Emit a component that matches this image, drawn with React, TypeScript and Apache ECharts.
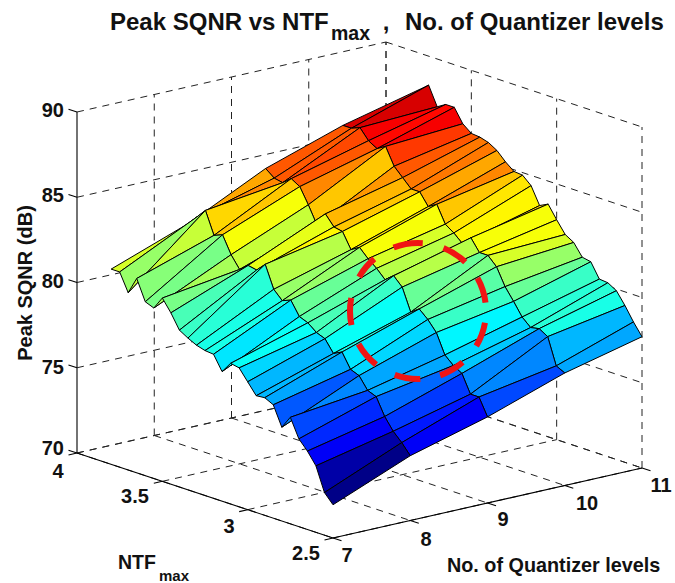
import React, { useEffect, useRef } from "react";
import * as echarts from "echarts";

const title = "Peak SQNR vs NTF";
const titleSub = "max";
const titleTail = "No. of Quantizer levels";
const zTicks = [70, 75, 80, 85, 90];
const qTicks = [7, 8, 9, 10, 11];
const nTicks = [4, 3.5, 3, 2.5];
const ntfValues = [3.8,3.75,3.7,3.65,3.6,3.55,3.5,3.45,3.4,3.35,3.3,3.25,3.2,3.15,3.1,3.05,3,2.95,2.9,2.85,2.8,2.75,2.7,2.65,2.6,2.55,2.5];
const sqnrQ7 = [81.45,81.45,80.4,81.4,80.2,80.0,80.75,80.05,79.2,78.9,78.65,78.5,78.45,77.6,78.25,78.15,77.5,76.85,76.9,76.65,75.5,76.25,75.15,74.6,73.9,72.5,71.95];
const sqnrQ8 = [83.1,83.65,84.2,82.9,83.1,82.1,81.4,81.8,81.7,82.2,80.9,80.4,80.6,79.8,79.6,79.2,79.0,78.3,78.55,77.7,77.5,76.8,76.6,75.6,74.9,74.4,73.8];
const sqnrQ9 = [85.3,84.9,84.8,85.2,84.9,84.0,83.0,83.8,83.2,83.1,82.2,82.5,82.0,81.6,81.1,81.5,81.0,79.7,80.05,79.6,79.0,77.85,77.4,77.1,76.05,76.05,75.05];
const sqnrQ10 = [86.8,86.8,87.0,86.4,86.1,86.4,85.4,84.9,84.4,84.4,83.7,84.0,83.0,82.65,82.2,82.7,82.0,82.0,81.5,80.5,79.8,79.05,78.6,78.7,78.4,76.85,76.6];
const sqnrQ11 = [87.9,88.3,87.2,87.5,87.5,86.7,86.3,86.25,86.1,85.8,85.3,84.9,84.85,84.4,83.4,83.65,82.9,82.2,81.9,81.2,81.1,80.25,80.2,79.9,79.2,78.4,77.7];
const sqnr = [sqnrQ7, sqnrQ8, sqnrQ9, sqnrQ10, sqnrQ11];
// highlighted ring, dash start and end angles in degrees
const ringDashes = [[-111,-86],[-68,-46],[-29,-7],[10,31],[49,71],[88,110],[128,151],[168,191],[210,230]];

const cMin = 71.95, cMax = 88.3;
function clamp(v: number) { return Math.max(0, Math.min(1, v)); }
function jet(z: number) {
  const idx = Math.min(63, Math.max(0, Math.floor(((z - cMin) / (cMax - cMin)) * 64)));
  const v = (idx + 0.5) / 64;
  const r = clamp(Math.min(4 * v - 1.5, -4 * v + 4.5));
  const g = clamp(Math.min(4 * v - 0.5, -4 * v + 3.5));
  const b = clamp(Math.min(4 * v + 0.5, -4 * v + 2.5));
  return `rgb(${Math.round(r * 255)},${Math.round(g * 255)},${Math.round(b * 255)})`;
}

// parallel projection of the 3-D box onto the page plane
function project(q: number, n: number, z: number): [number, number] {
  const a = (q - 7) / 4, b = (4 - n) / 1.5, c = (z - 70) / 20;
  return [77 + a * 309 + b * 256, 453 - a * 70 + b * 85 - c * 341];
}

type Seg = number[];
function frameSegments() {
  const segs: Seg[] = [];
  const push = (a: number[], b: number[], solid: number) => segs.push([...a, ...b, solid]);
  for (const q of qTicks) {
    push([q, 4, 70], [q, 2.5, 70], 0);
    push([q, 4, 70], [q, 4, 90], q === 7 ? 1 : 0);
    push([q, 2.5, 70], [q, 2.45, 70], 1);
  }
  for (const n of nTicks) {
    push([7, n, 70], [11, n, 70], 0);
    push([11, n, 70], [11, n, 90], 0);
    push([7, n, 70], [6.89, n, 70], 1);
  }
  for (const z of zTicks) {
    push([7, 4, z], [11, 4, z], 0);
    push([11, 4, z], [11, 2.5, z], 0);
    push([7, 4, z], [7, 4.05, z], 1);
  }
  push([7, 4, 70], [7, 2.5, 70], 1);
  push([7, 2.5, 70], [11, 2.5, 70], 1);
  return segs;
}

function surfaceCells() {
  const cells: number[][] = [];
  for (let c = qTicks.length - 2; c >= 0; c--) {
    for (let r = 0; r < ntfValues.length - 1; r++) {
      cells.push([c, r]);
    }
  }
  return cells;
}

const BOLD = "bold";
const FONT = "Liberation Sans, Arial, sans-serif";
function label(text: string, x: number, y: number, size: number, align: string = "center", extra: any = {}) {
  return {
    type: "text", x, y, silent: true, z: 50, ...extra,
    style: { text, fontFamily: FONT, fontWeight: BOLD, fontSize: size, fill: "#111", align, verticalAlign: "middle" },
  };
}

export default function App() {
  const ref = useRef<HTMLDivElement>(null);
  useEffect(() => {
    const chart = echarts.init(ref.current!, undefined, { renderer: "svg" });
    const zLabelY = [448, 367, 281, 195, 110];
    const nLabels: [string, number, number][] = [["4", 58, 471], ["3.5", 135, 496], ["3", 229, 526], ["2.5", 306, 553]];
    const qLabels: [string, number, number][] = [["7", 347, 555], ["8", 426, 539], ["9", 503, 519], ["10", 587, 503], ["11", 661, 485]];
    const graphic: any[] = [
      label(title, 110, 21, 24, "left"),
      label(titleSub, 331, 33, 19.5, "left"),
      label(",", 386, 21, 24, "center"),
      label(titleTail, 405, 21, 24, "left"),
      label("Peak SQNR (dB)", 25, 283, 20, "center", { rotation: Math.PI / 2 }),
      label("NTF", 118, 562, 19.5, "left"),
      label(titleSub, 159, 575, 15, "left"),
      label(titleTail, 447, 565, 19.8, "left"),
      ...zTicks.map((z, i) => label(String(z), 64, zLabelY[i], 20, "right")),
      ...nLabels.map((l) => label(l[0], l[1], l[2], 20)),
      ...qLabels.map((l) => label(l[0], l[1], l[2], 20)),
      ...ringDashes.map((d) => ({
        type: "arc", silent: true, z: 40,
        shape: { cx: 418, cy: 311, r: 68, startAngle: (d[0] * Math.PI) / 180, endAngle: (d[1] * Math.PI) / 180, clockwise: true },
        style: { stroke: "#f01414", lineWidth: 6, fill: "none" },
      })),
    ];
    chart.setOption({
      animation: false,
      backgroundColor: "#fff",
      grid: { left: 0, right: 0, top: 0, bottom: 0 },
      xAxis: { type: "value", min: 0, max: 675, show: false },
      yAxis: { type: "value", min: 0, max: 583, inverse: true, show: false },
      graphic,
      series: [
        {
          type: "custom",
          silent: true,
          z: 1,
          clip: false,
          data: frameSegments(),
          encode: { x: 0, y: 1 },
          renderItem: (_p: any, api: any) => {
            const a = project(api.value(0), api.value(1), api.value(2));
            const b = project(api.value(3), api.value(4), api.value(5));
            const p1 = api.coord(a), p2 = api.coord(b);
            const solid = api.value(6) === 1;
            return {
              type: "line",
              shape: { x1: p1[0], y1: p1[1], x2: p2[0], y2: p2[1] },
              style: { stroke: solid ? "#000" : "#222", lineWidth: solid ? 1.1 : 1, lineDash: solid ? null : [7, 6], fill: "none" },
            };
          },
        },
        {
          type: "custom",
          silent: true,
          z: 2,
          clip: false,
          data: surfaceCells(),
          encode: { x: 0, y: 1 },
          renderItem: (_p: any, api: any) => {
            const c = api.value(0), r = api.value(1);
            const corner = (ci: number, ri: number) => api.coord(project(qTicks[ci], ntfValues[ri], sqnr[ci][ri]));
            return {
              type: "polygon",
              shape: { points: [corner(c, r), corner(c + 1, r), corner(c + 1, r + 1), corner(c, r + 1)] },
              style: { fill: jet(sqnr[c][r + 1]), stroke: "#000", lineWidth: 1, lineJoin: "round" },
            };
          },
        },
      ],
    });
    return () => chart.dispose();
  }, []);
  return <div ref={ref} style={{ position: "fixed", left: 0, top: 0, width: 675, height: 583, background: "#fff" }} />;
}
